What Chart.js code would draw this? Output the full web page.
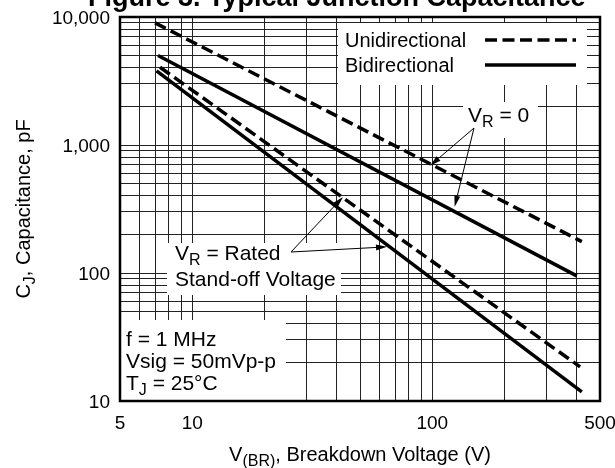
<!DOCTYPE html>
<html>
<head>
<meta charset="utf-8">
<script src="https://cdn.jsdelivr.net/npm/chart.js@4/dist/chart.umd.min.js"></script>
<style>
  html, body { margin: 0; padding: 0; background: #fff; }
  #wrap { width: 615px; height: 468px; }
</style>
</head>
<body>
<div id="wrap"><canvas id="chart" width="615" height="468"></canvas></div>
<script>
// curve end points: breakdown voltage (V) / capacitance (pF)
const uniZeroV = [7.0, 420];
const uniZeroC = [9000, 176];
const biZeroV = [7.2, 400];
const biZeroC = [5000, 95];
const uniRatedV = [7.34, 413];
const uniRatedC = [4050, 18.5];
const biRatedV = [7.1, 420];
const biRatedC = [3790, 11.8];

// grid lines and labelled ticks
const xGrid = [5, 6, 7, 8, 9, 10, 20, 30, 40, 50, 60, 70, 80, 90, 100, 200, 300, 400, 500];
const yGrid = [10, 20, 30, 40, 50, 60, 70, 80, 90, 100, 200, 300, 400, 500, 600, 700, 800, 900,
  1000, 2000, 3000, 4000, 5000, 6000, 7000, 8000, 9000, 10000];
const xLabels = [5, 10, 100, 500];
const yLabels = [10, 100, 1000, 10000];

const FONT = '"Liberation Sans", Arial, sans-serif';
const DASH = [12, 5.5];

function pts(xs, ys) {
  return xs.map((x, i) => ({ x: x, y: ys[i] }));
}

// text with subscripts: parts = [[text, isSub], ...]
function richText(ctx, parts, x, y, size, align) {
  let w = 0;
  parts.forEach(p => {
    ctx.font = (p[1] ? Math.round(size * 0.78) : size) + 'px ' + FONT;
    w += ctx.measureText(p[0]).width;
  });
  let cx = align === 'center' ? x - w / 2 : x;
  ctx.textAlign = 'left';
  ctx.textBaseline = 'alphabetic';
  parts.forEach(p => {
    ctx.font = (p[1] ? Math.round(size * 0.78) : size) + 'px ' + FONT;
    ctx.fillText(p[0], cx, p[1] ? y + size * 0.25 : y);
    cx += ctx.measureText(p[0]).width;
  });
}

function arrow(ctx, x0, y0, x1, y1) {
  const a = Math.atan2(y1 - y0, x1 - x0);
  const len = 11, hw = 3;
  ctx.beginPath();
  ctx.moveTo(x0, y0);
  ctx.lineTo(x1 - len * Math.cos(a), y1 - len * Math.sin(a));
  ctx.lineWidth = 1;
  ctx.strokeStyle = '#000';
  ctx.stroke();
  ctx.beginPath();
  ctx.moveTo(x1, y1);
  ctx.lineTo(x1 - len * Math.cos(a) + hw * Math.sin(a), y1 - len * Math.sin(a) - hw * Math.cos(a));
  ctx.lineTo(x1 - len * Math.cos(a) - hw * Math.sin(a), y1 - len * Math.sin(a) + hw * Math.cos(a));
  ctx.closePath();
  ctx.fillStyle = '#000';
  ctx.fill();
}

const decorations = {
  id: 'decorations',
  beforeDatasetsDraw(chart) {
    const ctx = chart.ctx;
    ctx.save();
    ctx.fillStyle = '#fff';
    ctx.fillRect(338, 23, 249, 62);   // legend
    ctx.fillRect(463, 102, 75, 36);   // V_R = 0
    ctx.fillRect(167, 243, 174, 52);  // rated
    ctx.fillRect(120, 320, 166, 81);  // conditions
    ctx.restore();
  },
  afterDatasetsDraw(chart) {
    const ctx = chart.ctx;
    const xs = chart.scales.x, ys = chart.scales.y;
    const area = chart.chartArea;
    ctx.save();
    ctx.fillStyle = '#000';

    // legend
    richText(ctx, [['Unidirectional', false]], 345, 47, 20);
    richText(ctx, [['Bidirectional', false]], 345, 72, 20);
    ctx.lineWidth = 3.5;
    ctx.strokeStyle = '#000';
    ctx.setLineDash(DASH);
    ctx.beginPath(); ctx.moveTo(485, 40); ctx.lineTo(576, 40); ctx.stroke();
    ctx.setLineDash([]);
    ctx.beginPath(); ctx.moveTo(485, 65); ctx.lineTo(576, 65); ctx.stroke();

    // annotations
    ctx.fillStyle = '#000';
    richText(ctx, [['V', false], ['R', true], [' = 0', false]], 468, 122, 21);
    richText(ctx, [['V', false], ['R', true], [' = Rated', false]], 175, 260, 21);
    richText(ctx, [['Stand-off Voltage', false]], 175, 286, 21);
    richText(ctx, [['f = 1 MHz', false]], 126, 346, 21);
    richText(ctx, [['Vsig = 50mVp-p', false]], 126, 368, 21);
    richText(ctx, [['T', false], ['J', true], [' = 25°C', false]], 126, 390, 21);

    arrow(ctx, 474, 128, xs.getPixelForValue(98), ys.getPixelForValue(690));
    arrow(ctx, 474, 128, xs.getPixelForValue(124), ys.getPixelForValue(330));
    arrow(ctx, 291, 252, xs.getPixelForValue(42.5), ys.getPixelForValue(393));
    arrow(ctx, 291, 252, xs.getPixelForValue(64.8), ys.getPixelForValue(160));

    // frame
    ctx.lineWidth = 2.5;
    ctx.strokeStyle = '#000';
    ctx.strokeRect(area.left, area.top, area.right - area.left, area.bottom - area.top);

    // axis titles
    ctx.fillStyle = '#000';
    richText(ctx, [['V', false], ['(BR)', true], [', Breakdown Voltage (V)', false]],
      (area.left + area.right) / 2, 461, 20, 'center');
    ctx.translate(30, (area.top + area.bottom) / 2);
    ctx.rotate(-Math.PI / 2);
    richText(ctx, [['C', false], ['J', true], [', Capacitance, pF', false]], 0, 0, 20, 'center');
    ctx.restore();

    // figure caption, top cut off by the picture edge
    ctx.save();
    ctx.font = 'bold 27px ' + FONT;
    ctx.textAlign = 'left';
    ctx.textBaseline = 'alphabetic';
    ctx.fillStyle = '#000';
    ctx.fillText('Figure 3. Typical Junction Capacitance', 88, 6);
    ctx.restore();
  }
};

function line(label, xs, ys, dashed) {
  return {
    label: label,
    data: pts(xs, ys),
    borderColor: '#000',
    borderWidth: 3.5,
    borderDash: dashed ? DASH : [],
    pointRadius: 0,
    fill: false,
    tension: 0
  };
}

new Chart(document.getElementById('chart'), {
  type: 'line',
  data: {
    datasets: [
      line('Unidirectional VR=0', uniZeroV, uniZeroC, true),
      line('Bidirectional VR=0', biZeroV, biZeroC, false),
      line('Unidirectional rated', uniRatedV, uniRatedC, true),
      line('Bidirectional rated', biRatedV, biRatedC, false)
    ]
  },
  options: {
    responsive: false,
    animation: false,
    devicePixelRatio: 1,
    events: [],
    layout: { padding: { top: 17, right: 15, left: 0, bottom: 0 } },
    plugins: { legend: { display: false }, tooltip: { enabled: false }, title: { display: false } },
    scales: {
      x: {
        type: 'logarithmic',
        min: 5,
        max: 500,
        afterBuildTicks: s => { s.ticks = xGrid.map(v => ({ value: v })); },
        afterFit: s => { s.height = 67; s.paddingLeft = 0; s.paddingRight = 0; },
        grid: { color: '#222', lineWidth: 1, drawTicks: false },
        border: { display: false },
        ticks: {
          autoSkip: false,
          maxRotation: 0,
          padding: 11,
          color: '#000',
          font: { family: FONT, size: 19 },
          callback: v => xLabels.includes(v) ? String(v) : ''
        }
      },
      y: {
        type: 'logarithmic',
        min: 10,
        max: 10000,
        afterBuildTicks: s => { s.ticks = yGrid.map(v => ({ value: v })); },
        afterFit: s => { s.width = 120; s.paddingTop = 0; s.paddingBottom = 0; },
        grid: { color: '#222', lineWidth: 1, drawTicks: false },
        border: { display: false },
        ticks: {
          autoSkip: false,
          padding: 10,
          labelOffset: 2,
          color: '#000',
          font: { family: FONT, size: 19 },
          callback: v => yLabels.includes(v) ? v.toLocaleString('en-US') : ''
        }
      }
    }
  },
  plugins: [decorations]
});
</script>
</body>
</html>
